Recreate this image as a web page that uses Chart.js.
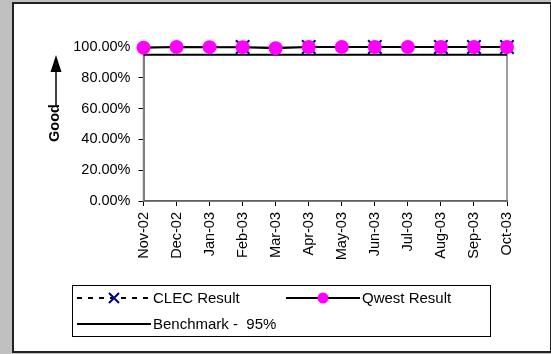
<!DOCTYPE html>
<html>
<head>
<meta charset="utf-8">
<script src="https://cdn.jsdelivr.net/npm/chart.js@4/dist/chart.umd.min.js"></script>
<style>
  html, body { margin: 0; padding: 0; background: #c0c0c0; }
  #wrap { position: relative; width: 551px; height: 354px; overflow: hidden; }
  #panel { position: absolute; left: 12px; top: 2px; width: 536px; height: 347px; background: #fff; border: 2px solid #222; }
  #chart { position: absolute; left: 0; top: 0; }
</style>
</head>
<body>
<div id="wrap">
  <div id="panel"></div>
  <canvas id="chart" width="551" height="354"></canvas>
</div>
<script>
// chart data
const months = ['Nov-02', 'Dec-02', 'Jan-03', 'Feb-03', 'Mar-03', 'Apr-03', 'May-03', 'Jun-03', 'Jul-03', 'Aug-03', 'Sep-03', 'Oct-03'];
const clecResult = [null, null, null, 100, null, 100, null, 100, null, 100, 100, 100];
const qwestResult = [99.5, 100, 99.9, 99.9, 99.2, 100, 100, 100, 100, 100, 100, 100];
const benchmark = [95, 95, 95, 95, 95, 95, 95, 95, 95, 95, 95, 95];
const yTicks = [0, 20, 40, 60, 80, 100];

const FONT = '"Liberation Sans", Arial, sans-serif';

// plot area border, "Good" arrow and legend box
const extras = {
  id: 'extras',
  beforeDatasetsDraw(chart) {
    const a = chart.chartArea, ctx = chart.ctx;
    ctx.save();
    ctx.strokeStyle = '#808080';
    ctx.lineWidth = 1.5;
    ctx.strokeRect(a.left, a.top, a.right - a.left, a.bottom - a.top);
    ctx.restore();
  },
  afterDraw(chart) {
    const ctx = chart.ctx;
    ctx.save();
    // Good + arrow
    ctx.fillStyle = '#000';
    ctx.strokeStyle = '#000';
    ctx.font = 'bold 14.5px ' + FONT;
    ctx.translate(55, 123);
    ctx.rotate(-Math.PI / 2);
    ctx.textAlign = 'center';
    ctx.textBaseline = 'middle';
    ctx.fillText('Good', 0, 0);
    ctx.restore();
    ctx.save();
    ctx.strokeStyle = '#000';
    ctx.fillStyle = '#000';
    ctx.lineWidth = 1.5;
    ctx.beginPath();
    ctx.moveTo(56, 106);
    ctx.lineTo(56, 70);
    ctx.stroke();
    ctx.beginPath();
    ctx.moveTo(56, 55);
    ctx.lineTo(50.5, 72);
    ctx.lineTo(61.5, 72);
    ctx.closePath();
    ctx.fill();

    // legend
    ctx.lineWidth = 1;
    ctx.strokeStyle = '#000';
    ctx.strokeRect(72.5, 285.5, 418, 51);
    const ds = chart.data.datasets;
    const items = [
      { d: ds[0], x: 77, y: 298 },
      { d: ds[1], x: 286, y: 298 },
      { d: ds[2], x: 77, y: 324 }
    ];
    items.forEach(it => {
      const d = it.d, x0 = it.x, x1 = it.x + 74, y = it.y;
      ctx.save();
      ctx.strokeStyle = d.borderColor;
      ctx.lineWidth = d.borderWidth;
      ctx.setLineDash(d.borderDash || []);
      ctx.beginPath();
      ctx.moveTo(x0, y);
      ctx.lineTo(x1, y);
      ctx.stroke();
      ctx.setLineDash([]);
      const cx = (x0 + x1) / 2;
      if (d.pointStyle === 'crossRot') {
        ctx.strokeStyle = d.pointBorderColor;
        ctx.lineWidth = 2;
        ctx.beginPath();
        ctx.moveTo(cx - 5, y - 5); ctx.lineTo(cx + 5, y + 5);
        ctx.moveTo(cx + 5, y - 5); ctx.lineTo(cx - 5, y + 5);
        ctx.stroke();
      } else if (d.pointRadius > 0) {
        ctx.fillStyle = d.pointBackgroundColor;
        ctx.beginPath();
        ctx.arc(cx, y, 5.5, 0, Math.PI * 2);
        ctx.fill();
      }
      ctx.restore();
      ctx.fillStyle = '#000';
      ctx.font = '15px ' + FONT;
      ctx.textAlign = 'left';
      ctx.textBaseline = 'middle';
      ctx.fillText(d.label, x1 + 2, y + 1);
    });
    ctx.restore();
  }
};

new Chart(document.getElementById('chart'), {
  type: 'line',
  data: {
    labels: months,
    datasets: [
      {
        label: 'CLEC Result',
        data: clecResult,
        borderColor: '#000',
        borderWidth: 2,
        borderDash: [5, 6],
        pointStyle: 'crossRot',
        pointRadius: 9.5,
        pointBorderColor: '#000080',
        pointBorderWidth: 2,
        spanGaps: false,
        clip: false,
        order: 1
      },
      {
        label: 'Qwest Result',
        data: qwestResult,
        borderColor: '#000',
        borderWidth: 2,
        pointStyle: 'circle',
        pointRadius: 7,
        pointBackgroundColor: '#ff00ff',
        pointBorderColor: '#ff00ff',
        pointBorderWidth: 0,
        clip: false,
        order: 0
      },
      {
        label: 'Benchmark -  95%',
        data: benchmark,
        borderColor: '#000',
        borderWidth: 2,
        pointRadius: 0,
        clip: false,
        order: 2
      }
    ]
  },
  options: {
    responsive: false,
    animation: false,
    events: [],
    layout: { padding: { left: 0, top: 47, right: 44, bottom: 0 } },
    plugins: { legend: { display: false }, tooltip: { enabled: false } },
    scales: {
      x: {
        offset: false,
        grid: { drawOnChartArea: false, drawTicks: true, tickLength: 5, color: '#000', lineWidth: 1 },
        border: { color: '#000', width: 1.5 },
        ticks: { color: '#000', font: { family: FONT, size: 14.5 }, maxRotation: 90, minRotation: 90, padding: 6, autoSkip: false },
        afterFit(s) { s.height = 153; }
      },
      y: {
        min: 0,
        max: 100,
        afterBuildTicks(s) { s.ticks = yTicks.map(v => ({ value: v })); },
        grid: { drawOnChartArea: false, drawTicks: true, tickLength: 5, color: '#000', lineWidth: 1 },
        border: { color: '#000', width: 1.5 },
        ticks: { color: '#000', font: { family: FONT, size: 14.5 }, padding: 8, callback: v => v.toFixed(2) + '%' },
        afterFit(s) { s.width = 143.5; }
      }
    }
  },
  plugins: [extras]
});
</script>
</body>
</html>
